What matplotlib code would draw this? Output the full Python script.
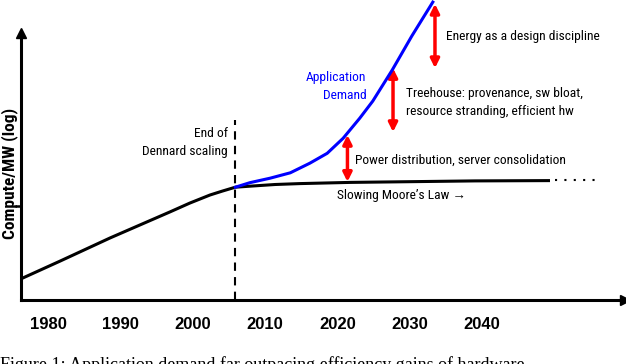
import matplotlib
matplotlib.use("Agg")
import matplotlib.pyplot as plt

COND = ["Roboto Condensed", "DejaVu Sans Condensed", "Liberation Sans Narrow", "Liberation Sans", "DejaVu Sans"]
plt.rcParams["font.family"] = COND

# 数据（从图上读取，x 为年份，y 为 log 刻度上的相对值）
moore_years = [1976.4, 1981.7, 1988.6, 1992.7, 1996.9, 1999.6, 2002.4, 2004.1, 2005.9,
               2008.3, 2011.4, 2014.8, 2021.8, 2028.7, 2039.0, 2049.4]
moore_vals = [0.72, 1.30, 2.07, 2.50, 2.94, 3.23, 3.50, 3.63, 3.76,
              3.80, 3.85, 3.88, 3.92, 3.94, 3.97, 3.98]
moore_ext_years = [2050.1, 2056.0]
moore_ext_vals = [3.99, 3.99]

demand_years = [2005.9, 2007.9, 2010.7, 2013.5, 2016.2, 2018.6, 2020.8,
                2023.1, 2024.9, 2027.6, 2030.3, 2033.2]
demand_vals = [3.76, 3.91, 4.06, 4.24, 4.56, 4.89, 5.39,
               6.06, 6.63, 7.67, 8.80, 9.93]

gap_years = [2021.4, 2027.7, 2033.5]
gap_top = [5.50, 7.73, 9.87]
gap_bottom = [3.94, 5.60, 7.73]
gap_labels = ["Power distribution, server consolidation",
              "Treehouse: provenance, sw bloat,\nresource stranding, efficient hw",
              "Energy as a design discipline"]
gap_label_x = [2022.4, 2029.5, 2035.0]
gap_label_y = [4.67, 6.60, 8.77]

dennard_year = 2005.85
year_ticks = [1980, 1990, 2000, 2010, 2020, 2030, 2040]

fig = plt.figure(figsize=(6.26, 3.64), dpi=100)
ax = fig.add_axes([21 / 626, 64 / 364, 604 / 626, 267 / 364])
ax.set_xlim(1976.27, 2059.77)
ax.set_ylim(0, 8.9)

for s in ["top", "right"]:
    ax.spines[s].set_visible(False)
for s in ["left", "bottom"]:
    ax.spines[s].set_linewidth(2.2)
ax.plot(1, 0, ">k", ms=7, transform=ax.transAxes, clip_on=False)
ax.plot(0, 1, "^k", ms=7, transform=ax.transAxes, clip_on=False)

ax.set_xticks(year_ticks)
ax.set_xticklabels([str(y) for y in year_ticks], family="Liberation Sans",
                   fontweight="bold", fontsize=12)
ax.tick_params(axis="x", length=0, pad=12)
ax.set_yticks([3.13])
ax.set_yticklabels([""])
ax.tick_params(axis="y", length=4, width=1.8, direction="out")

fig.text(10 / 626, 1 - 173 / 364, "Compute/MW (log)", rotation=90, ha="center",
         va="center", fontsize=12.5, fontweight="bold")

# 曲线
ax.plot(moore_years, moore_vals, color="black", lw=2.2, solid_capstyle="butt", zorder=3)
ax.plot(moore_ext_years, moore_ext_vals, color="black", lw=1.5, ls=(0, (1, 3.5)))
ax.plot(demand_years, demand_vals, color="blue", lw=2.2, clip_on=False, zorder=4)
ax.axvline(dennard_year, ymin=0, ymax=6.0 / 8.9, color="black", lw=1.5, ls=(0, (4, 3)))

# 红色双向箭头
for x, t, b in zip(gap_years, gap_top, gap_bottom):
    ax.annotate("", xy=(x, t), xytext=(x, b), annotation_clip=False,
                arrowprops=dict(arrowstyle="<|-|>", color="#ff0000", lw=2.5,
                                mutation_scale=13, shrinkA=0, shrinkB=0))
for lab, x, y in zip(gap_labels, gap_label_x, gap_label_y):
    ax.text(x, y, lab, ha="left", va="center", fontsize=9.7, linespacing=1.5,
            clip_on=False)

ax.text(2024.0, 7.12, "Application\nDemand", color="blue", ha="right", va="center",
        fontsize=9.7, linespacing=1.5)
ax.text(2004.9, 5.25, "End of\nDennard scaling", ha="right", va="center",
        fontsize=9.7, linespacing=1.5)
ax.text(2020.0, 3.5, "Slowing Moore\u2019s Law \u2192", ha="left", va="center",
        fontsize=9.7)

fig.text(0.0, 1 - 356 / 364,
         "Figure 1: Application demand far outpacing efficiency gains of hardware.",
         ha="left", va="top", family="Liberation Serif", fontsize=13)

fig.savefig("out.png", dpi=100)
